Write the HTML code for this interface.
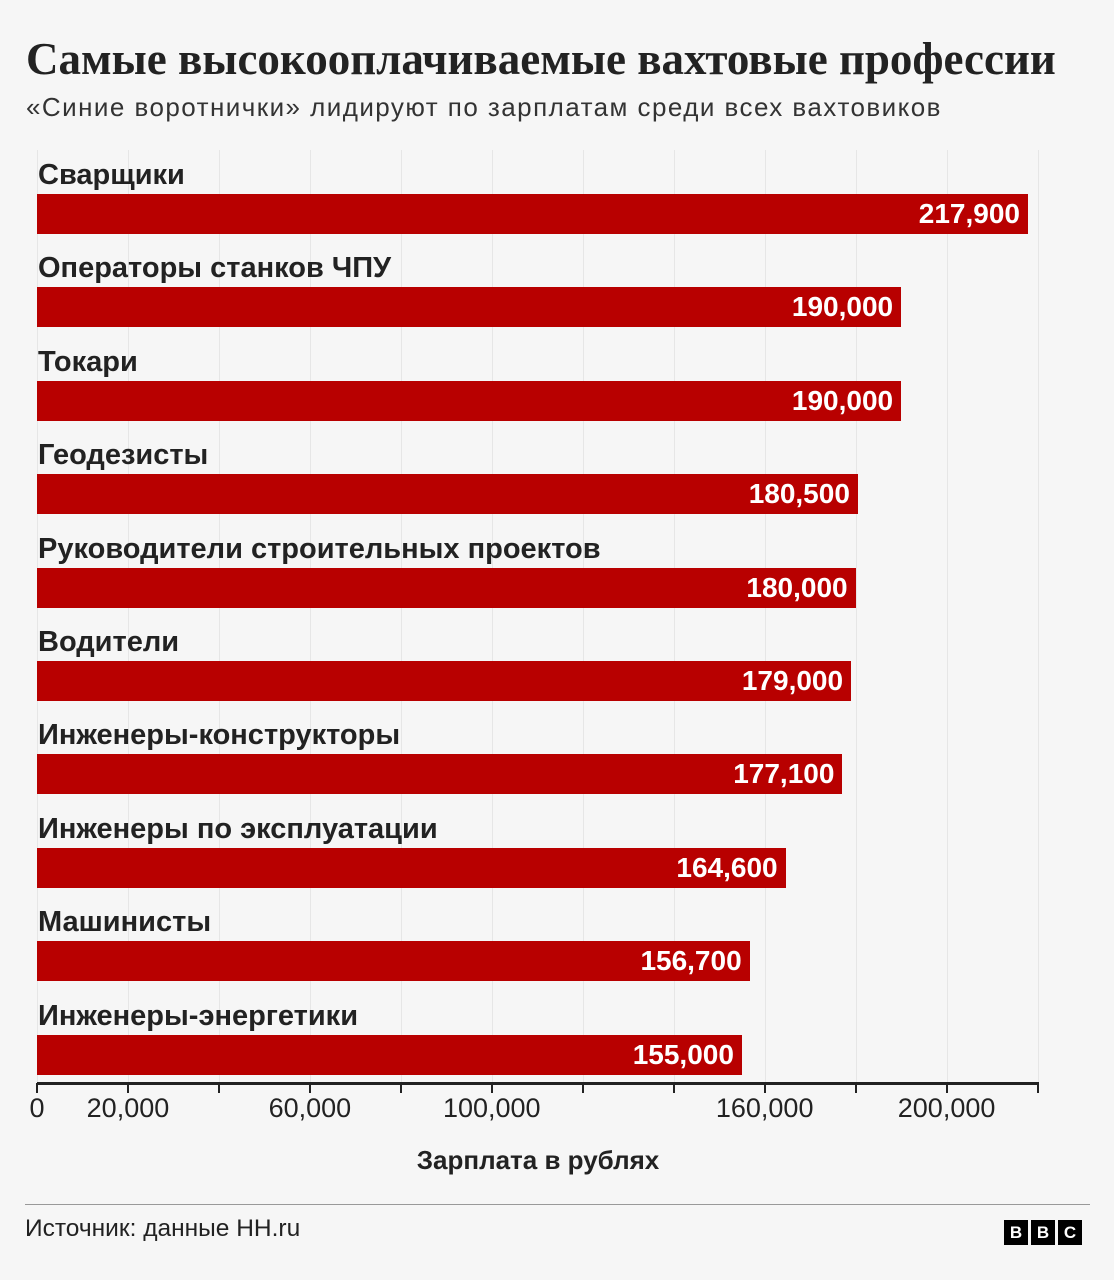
<!DOCTYPE html><html><head><meta charset="utf-8"><style>
body{margin:0;background:#f6f6f6;width:1114px;height:1280px;position:relative;overflow:hidden;font-family:"Liberation Sans","Noto Sans CJK SC",sans-serif;color:#222}
.a{position:absolute;white-space:nowrap}
.t{left:26px;top:33px;font-family:"Liberation Serif","Noto Serif CJK SC",serif;font-weight:bold;font-size:45px;color:#222}
.s{left:26px;top:92px;font-size:26px;letter-spacing:1.45px;color:#333}
.l{left:38px;font-weight:bold;font-size:29px;color:#222}
.b{left:37px;height:40px;background:#b80000}
.v{right:8px;top:4px;color:#fff;font-weight:bold;font-size:28px}
.g{top:150px;height:933px;width:1px;background:#e6e6e6}
.tk{top:1083px;width:2px;height:10px;background:#222}
.tl{top:1093px;font-size:27px;transform:translateX(-50%)}
</style></head><body>
<div class="a t">Самые высокооплачиваемые вахтовые профессии</div>
<div class="a s">«Синие воротнички» лидируют по зарплатам среди всех вахтовиков</div>
<div id="grid"></div>
<div id="rows"></div>
<div class="a" style="left:37px;top:1082px;width:1002px;height:3px;background:#222"></div>
<div id="ax"></div>
<div class="a" style="left:37px;width:1002px;top:1145px;text-align:center;font-weight:bold;font-size:26px">Зарплата в рублях</div>
<div class="a" style="left:25px;top:1204px;width:1065px;height:1px;background:#999"></div>
<div class="a" style="left:25px;top:1215px;font-size:24.5px">Источник: данные HH.ru</div>
<div class="a" style="left:1004px;top:1220px;display:flex;gap:3px">
<span style="width:24px;height:25px;background:#000;color:#fff;font-weight:bold;font-size:17px;text-align:center;line-height:25px">B</span>
<span style="width:24px;height:25px;background:#000;color:#fff;font-weight:bold;font-size:17px;text-align:center;line-height:25px">B</span>
<span style="width:24px;height:25px;background:#000;color:#fff;font-weight:bold;font-size:17px;text-align:center;line-height:25px">C</span></div>
<script>
var d=[["Сварщики",217900],["Операторы станков ЧПУ",190000],["Токари",190000],["Геодезисты",180500],["Руководители строительных проектов",180000],["Водители",179000],["Инженеры-конструкторы",177100],["Инженеры по эксплуатации",164600],["Машинисты",156700],["Инженеры-энергетики",155000]];
var k=(1028-37)/217900,h="",g="",a="";
d.forEach(function(r,i){var y=194+i*93.4;
h+='<div class="a l" style="top:'+(y-35)+'px">'+r[0]+'</div><div class="a b" style="top:'+y+'px;width:'+(r[1]*k)+'px"><div class="a v">'+r[1].toLocaleString("en-US")+'</div></div>';});
for(var i=0;i<=11;i++){var x=37+i*20000*k;g+='<div class="a g" style="left:'+x+'px"></div>';a+='<div class="a tk" style="left:'+(x-1)+'px"></div>';}
[0,20000,60000,100000,160000,200000].forEach(function(v){a+='<div class="a tl" style="left:'+(37+v*k)+'px">'+v.toLocaleString("en-US")+'</div>';});
document.getElementById("grid").innerHTML=g;document.getElementById("rows").innerHTML=h;document.getElementById("ax").innerHTML=a;
</script>
</body></html>
